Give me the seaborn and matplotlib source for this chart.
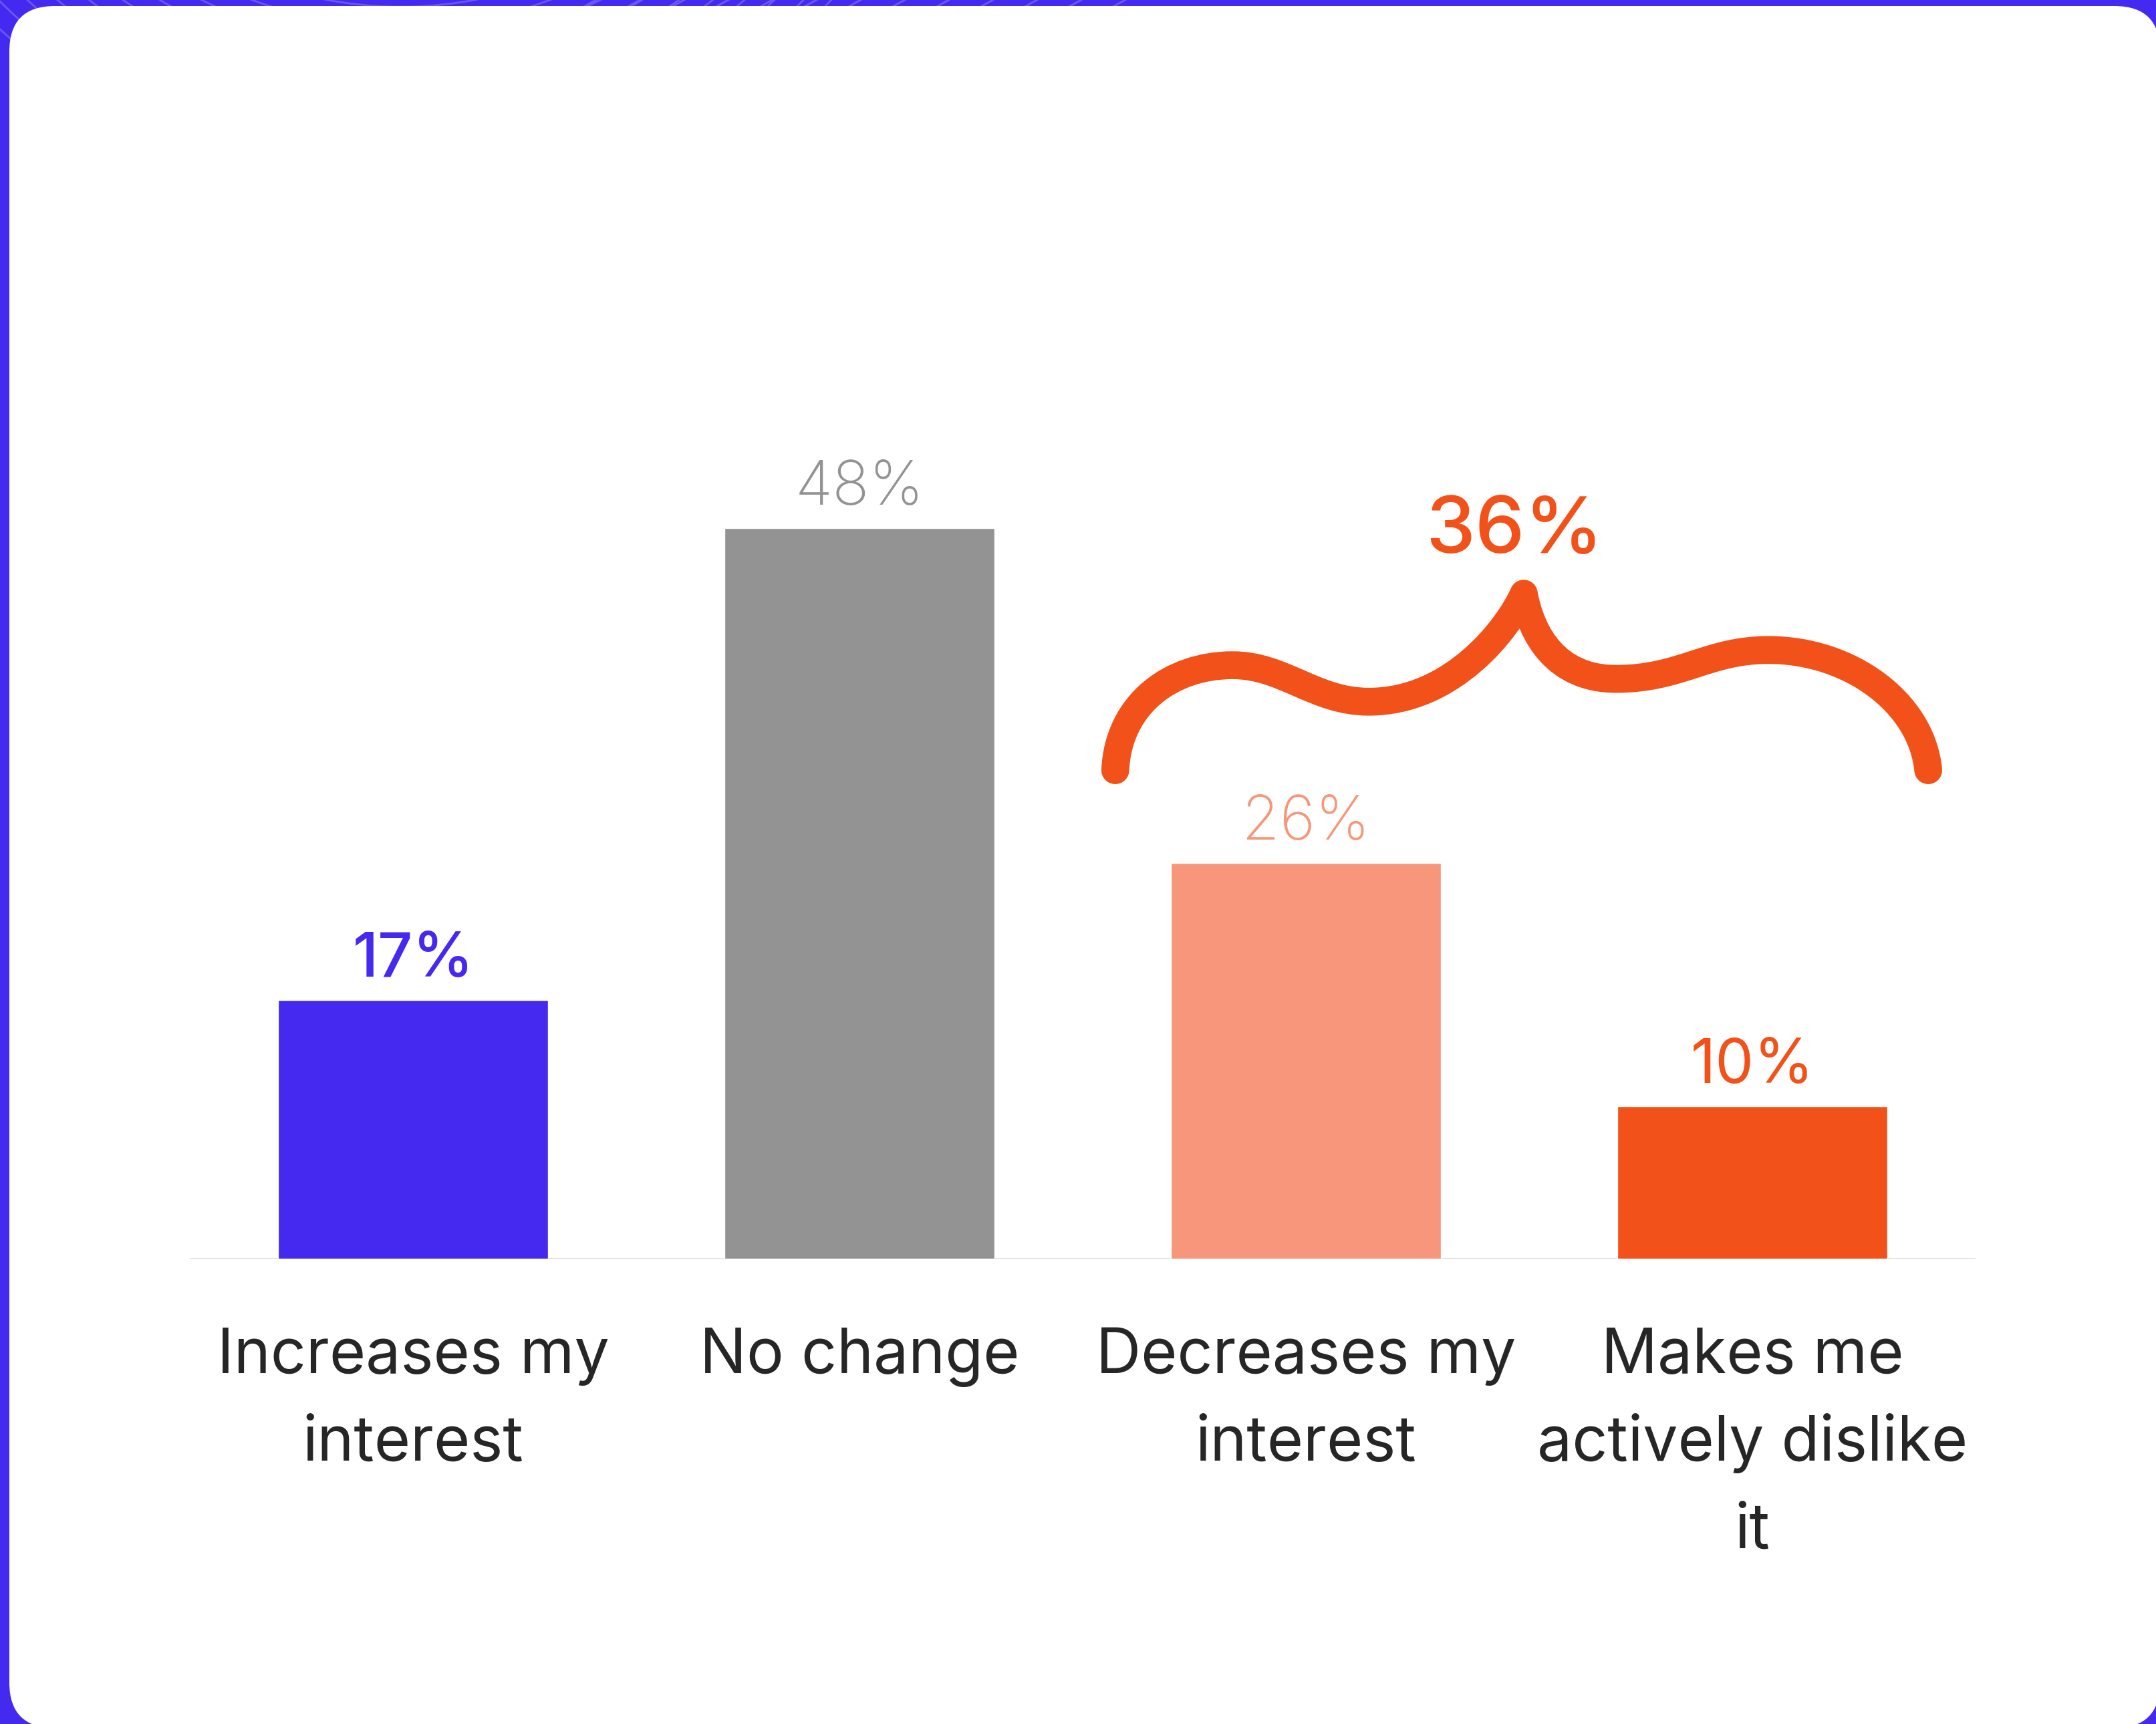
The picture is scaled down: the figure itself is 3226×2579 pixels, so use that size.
import matplotlib
matplotlib.use("Agg")
import matplotlib.pyplot as plt
import seaborn as sns
import pandas as pd
import numpy as np
from matplotlib.patches import FancyBboxPatch, PathPatch, Circle
from matplotlib.lines import Line2D
from matplotlib.path import Path
from matplotlib.transforms import IdentityTransform

# ---- data ----
categories = ["Increases my\ninterest", "No change", "Decreases my\ninterest",
              "Makes me\nactively dislike\nit"]
values = [17, 48, 26, 10]
bar_colors = ["#4529F0", "#939393", "#F7967B", "#F25219"]
label_weights = ["medium", "light", "light", "normal"]
negative_group = [2, 3]          # bars summed under the brace
group_color = "#F25219"

W, H, DPI = 3226, 2579, 100
FRAME = "#4429F0"
TEXT = "#262626"

sns.set_theme(style="white")
plt.rcParams["font.family"] = ["Inter", "DejaVu Sans"]

fig = plt.figure(figsize=(W / DPI, H / DPI), dpi=DPI)
fig.patch.set_facecolor(FRAME)
ident = IdentityTransform()

# subtle line pattern on the frame
for r in np.arange(610, 900, 30):
    fig.add_artist(Circle((600, H + 600), r, transform=ident, fill=False,
                          ec="#6B57F3", lw=2.0, zorder=-10))
for x0 in range(870, 1670, 66):
    fig.add_artist(Line2D([x0, x0 + 25], [H - 12, H + 2], transform=ident,
                          color="#6B57F3", lw=2.2, zorder=-10))

# white card
fig.add_artist(FancyBboxPatch((14, -6), W + 6 - 14, H - 9 + 6,
                              boxstyle="round,pad=0,rounding_size=68",
                              transform=ident, fc="white", ec="none", zorder=-5))

# ---- bars ----
ax = fig.add_axes([284 / W, 696 / H, 2672 / W, 1366 / H])
ax.patch.set_alpha(0)
df = pd.DataFrame({"category": categories, "value": values})
sns.barplot(data=df, x="category", y="value", hue="category", palette=bar_colors,
            legend=False, width=0.606, saturation=1, ax=ax, zorder=2)
ax.set_xlim(-0.5, 3.5)
ax.set_ylim(0, 60)
for s in ax.spines.values():
    s.set_visible(False)
ax.set_xticks([])
ax.set_yticks([])
ax.set_xlabel("")
ax.set_ylabel("")
ax.axhline(0, color="#DADADA", lw=2.0, zorder=1)

PX = 0.72  # points per pixel at 100 dpi

# value labels
for i, (v, c, w) in enumerate(zip(values, bar_colors, label_weights)):
    ax.annotate(f"{v}%", xy=(i, v), xytext=(0, 35 * PX), textcoords="offset points",
                ha="center", va="baseline", fontsize=66, color=c, fontweight=w)

# category labels, one line at a time
for i, cat in enumerate(categories):
    for k, line in enumerate(cat.split("\n")):
        ax.annotate(line, xy=(i, 0), xytext=(0, -(171 + 131 * k) * PX),
                    textcoords="offset points", ha="center", va="baseline",
                    fontsize=67, color=TEXT, annotation_clip=False)

# ---- brace over the negative group ----
total = sum(values[i] for i in negative_group)
c = np.mean(negative_group) - 0.015
pts = [(-0.912, 32.1),
       (-0.905, 36.5), (-0.785, 39.0), (-0.649, 39.0),
       (-0.535, 39.0), (-0.465, 36.6), (-0.344, 36.6),
       (-0.155, 36.6), (-0.030, 41.5), (0.003, 43.7),
       (0.020, 41.0), (0.075, 38.1), (0.210, 38.1),
       (0.355, 38.1), (0.415, 40.0), (0.551, 40.0),
       (0.735, 40.0), (0.895, 36.5), (0.909, 32.1)]
verts = [(c + dx, y) for dx, y in pts]
codes = [Path.MOVETO] + [Path.CURVE4] * (len(verts) - 1)
ax.add_patch(PathPatch(Path(verts, codes), fill=False, ec=group_color, lw=30,
                       capstyle="round", joinstyle="round", clip_on=False, zorder=3))
ax.text(c - 0.018, 46.4, f"{total}%", ha="center", va="baseline", fontsize=85,
        color=group_color, fontweight="medium")

fig.savefig("out.png", dpi=DPI, facecolor=FRAME)
